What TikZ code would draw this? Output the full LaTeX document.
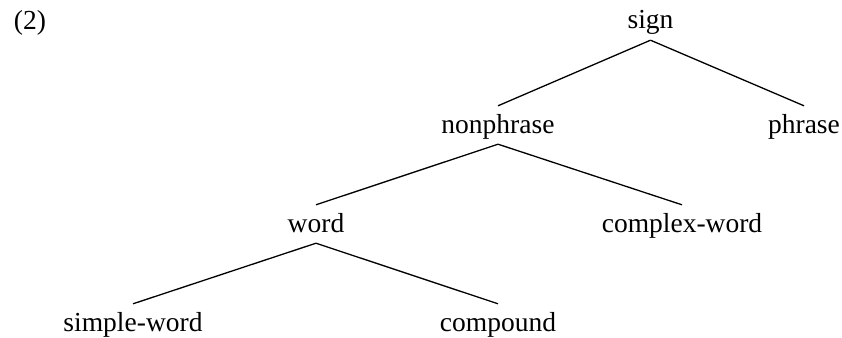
\documentclass[tikz,border=0pt]{standalone}
\usepackage{fontspec}
\setmainfont{Liberation Serif}
\begin{document}
\begin{tikzpicture}[x=1pt,y=-1pt,
  lbl/.style={inner xsep=0pt,inner ysep=0pt,text height=27pt,text depth=11pt,anchor=base,
    font=\fontsize{27.5}{33}\selectfont},
  edge/.style={line width=1.3pt}]
\useasboundingbox (0,0) rectangle (842,337);
\node[lbl] (num) at (30,30) {(2)};
\node[lbl] (sign) at (650.5,29) {sign};
\node[lbl] (nonphrase) at (498,133) {nonphrase};
\node[lbl] (phrase) at (804,133) {phrase};
\node[lbl] (word) at (316,232) {word};
\node[lbl] (complexword) at (682,232) {complex-word};
\node[lbl] (simpleword) at (133,331) {simple-word};
\node[lbl] (compound) at (498,331) {compound};
\draw[edge] (sign.south) -- (nonphrase.north);
\draw[edge] (sign.south) -- (phrase.north);
\draw[edge] (nonphrase.south) -- (word.north);
\draw[edge] (nonphrase.south) -- (complexword.north);
\draw[edge] (word.south) -- (simpleword.north);
\draw[edge] (word.south) -- (compound.north);
\end{tikzpicture}
\end{document}
